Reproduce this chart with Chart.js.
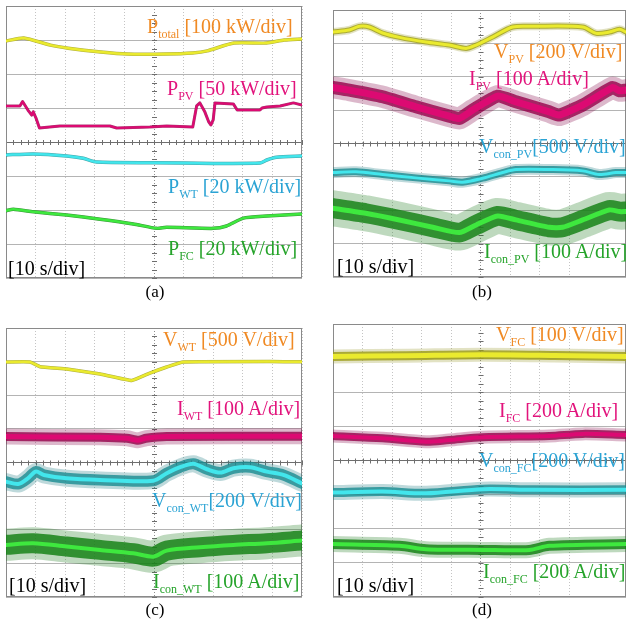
<!DOCTYPE html>
<html>
<head>
<meta charset="utf-8">
<script src="https://cdn.jsdelivr.net/npm/chart.js@4.4.1/dist/chart.umd.min.js"></script>
<style>
  html, body { margin: 0; padding: 0; background: #fff; overflow: hidden; }
  #wrap { position: relative; width: 626px; height: 625px; }
  canvas { position: absolute; }
  .lab { position: absolute; font-family: "Liberation Serif", "Times New Roman", serif; font-size: 20px; line-height: 20px; white-space: nowrap; }
  .lab sub { font-size: 12px; vertical-align: baseline; position: relative; top: 5px; line-height: 0; }
  .cap { position: absolute; width: 60px; text-align: center; font-family: "Liberation Serif", serif; font-size: 17px; line-height: 17px; color: #000; }
</style>
</head>
<body>
<div id="wrap">
  <canvas id="pa" width="298" height="274" style="left:5px;top:5px"></canvas>
  <canvas id="pb" width="294" height="269" style="left:332px;top:9px"></canvas>
  <canvas id="pc" width="298" height="271" style="left:5px;top:327px"></canvas>
  <canvas id="pd" width="294" height="275" style="left:332px;top:323px"></canvas>

  <div class="lab" style="left:147px;top:16px;color:#f08a24">P<sub>total</sub> [100 kW/div]</div>
  <div class="lab" style="left:167px;top:78px;color:#e2137c">P<sub>PV</sub> [50 kW/div]</div>
  <div class="lab" style="left:168px;top:176px;color:#2aa3d4">P<sub>WT</sub> [20 kW/div]</div>
  <div class="lab" style="left:168px;top:238px;color:#25a32a">P<sub>FC</sub> [20 kW/div]</div>
  <div class="lab" style="left:8px;top:258px;color:#000">[10 s/div]</div>

  <div class="lab" style="left:494px;top:41px;color:#f08a24">V<sub>PV</sub> [200 V/div]</div>
  <div class="lab" style="left:469px;top:68px;color:#e2137c">I<sub>PV</sub> [100 A/div]</div>
  <div class="lab" style="left:479px;top:136px;color:#2aa3d4">V<sub>con_PV</sub>[500 V/div]</div>
  <div class="lab" style="left:484px;top:241px;color:#25a32a">I<sub>con_PV</sub> [100 A/div]</div>
  <div class="lab" style="left:337px;top:256px;color:#000">[10 s/div]</div>

  <div class="lab" style="left:163px;top:329px;color:#f08a24">V<sub>WT</sub> [500 V/div]</div>
  <div class="lab" style="left:177px;top:398px;color:#e2137c">I<sub>WT</sub> [100 A/div]</div>
  <div class="lab" style="left:152px;top:490px;color:#2aa3d4">V<sub>con_WT</sub>[200 V/div]</div>
  <div class="lab" style="left:153px;top:571px;color:#25a32a">I<sub>con_WT</sub> [100 A/div]</div>
  <div class="lab" style="left:9px;top:575px;color:#000">[10 s/div]</div>

  <div class="lab" style="left:496px;top:324px;color:#f08a24">V<sub>FC</sub> [100 V/div]</div>
  <div class="lab" style="left:499px;top:400px;color:#e2137c">I<sub>FC</sub> [200 A/div]</div>
  <div class="lab" style="left:479px;top:450px;color:#2aa3d4">V<sub>con_FC</sub>[200 V/div]</div>
  <div class="lab" style="left:483px;top:561px;color:#25a32a">I<sub>con_FC</sub> [200 A/div]</div>
  <div class="lab" style="left:337px;top:575px;color:#000">[10 s/div]</div>

  <div class="cap" style="left:125px;top:283px">(a)</div>
  <div class="cap" style="left:452px;top:283px">(b)</div>
  <div class="cap" style="left:125px;top:601px">(c)</div>
  <div class="cap" style="left:452px;top:601px">(d)</div>
</div>
<script>
// time in seconds (10 s/div), values in screen divisions (0 = bottom, 8 = top)

// (a) powers
var ptotalT = [0, 6, 15, 21, 32, 41, 54, 63, 68, 77, 88, 94, 100];
var ptotalV = [6.97, 7.06, 6.85, 6.76, 6.65, 6.59, 6.59, 6.62, 6.68, 6.91, 6.91, 7.0, 7.03];
var ppvT = [0, 4.7, 5.6, 7.4, 8.7, 9.2, 10.1, 11.3, 18.2, 35.1, 37.4, 48.6, 54.3, 63.1, 64.4, 65.5, 67.2, 68.5, 69.2, 70.0, 70.6, 76.8, 78.1, 85.8, 86.5, 88.1, 92.6, 97.1, 100];
var ppvV = [5.06, 5.06, 5.19, 4.94, 4.79, 4.89, 4.71, 4.41, 4.47, 4.47, 4.41, 4.44, 4.47, 4.44, 5.06, 5.15, 4.88, 4.59, 4.50, 4.65, 5.15, 5.12, 4.94, 4.94, 5.0, 5.03, 5.06, 5.15, 5.09];
var pwtT = [0, 9.2, 20.5, 26.1, 30.6, 49.8, 70.0, 85.8, 88.1, 91.4, 100];
var pwtV = [3.62, 3.65, 3.59, 3.52, 3.41, 3.39, 3.37, 3.38, 3.47, 3.55, 3.59];
var pfcT = [0, 2.5, 9.2, 20.5, 31.8, 43.0, 50.9, 54.3, 70.0, 74.5, 80.2, 88.1, 100];
var pfcV = [1.98, 2.02, 1.95, 1.85, 1.73, 1.59, 1.46, 1.49, 1.46, 1.53, 1.76, 1.82, 1.88];

// (b) PV converter
var vpvT = [0, 5.5, 8.9, 12.3, 16.8, 22.5, 31.5, 39.4, 45.1, 48.5, 54.1, 60.9, 67.7, 84.6, 89.2, 93.7, 97.1, 99.3];
var vpvV = [7.34, 7.40, 7.51, 7.49, 7.31, 7.18, 7.04, 6.95, 6.85, 6.95, 7.19, 7.49, 7.51, 7.49, 7.30, 7.34, 7.42, 7.34];
var ipvT = [0, 5.5, 16.8, 28.1, 39.4, 42.8, 47.3, 55.8, 62.0, 73.3, 76.7, 84.6, 94.8, 97.1, 99.3];
var ipvV = [5.68, 5.60, 5.40, 5.10, 4.82, 4.75, 5.0, 5.42, 5.25, 4.95, 4.85, 5.15, 5.68, 5.58, 5.60];
var vconpvT = [0, 7.8, 16.8, 28.1, 39.4, 43.9, 50.7, 57.5, 62.0, 73.3, 84.6, 90.2, 95.9, 99.3];
var vconpvV = [3.13, 3.15, 3.07, 2.97, 2.88, 2.84, 2.96, 3.13, 3.22, 3.22, 3.18, 3.07, 3.13, 3.13];
var iconpvT = [0, 11.1, 22.5, 33.8, 42.8, 48.5, 55.8, 62.0, 73.3, 77.8, 84.6, 93.7, 97.1, 99.3];
var iconpvV = [2.06, 1.91, 1.71, 1.49, 1.33, 1.56, 1.83, 1.71, 1.49, 1.49, 1.71, 2.01, 1.96, 1.96];

// (c) WT converter
var vwtT = [0, 8.1, 11.5, 20.5, 31.8, 42.5, 48.6, 54.3, 59.9, 100];
var vwtV = [6.99, 6.99, 6.85, 6.78, 6.63, 6.44, 6.66, 6.84, 6.99, 7.0];
var iwtT = [0, 31.8, 40.9, 44.6, 47.3, 54.3, 100];
var iwtV = [4.77, 4.75, 4.72, 4.66, 4.72, 4.77, 4.78];
var vconwtT = [0, 4.1, 7.4, 10.1, 12.8, 20.5, 31.8, 49.8, 54.3, 58.8, 63.3, 67.9, 72.4, 76.8, 82.5, 88.1, 93.7, 100];
var vconwtV = [3.43, 3.36, 3.53, 3.73, 3.63, 3.53, 3.48, 3.46, 3.68, 3.86, 3.96, 3.80, 3.70, 3.83, 3.86, 3.73, 3.63, 3.38];
var iconwtT = [0, 9.2, 20.5, 31.8, 43.0, 49.8, 54.3, 65.5, 76.8, 88.1, 100];
var iconwtV = [1.55, 1.60, 1.50, 1.40, 1.30, 1.20, 1.38, 1.48, 1.55, 1.60, 1.68];

// (d) FC converter
var vfcT = [0, 25, 50, 75, 99.3];
var vfcV = [7.05, 7.07, 7.10, 7.08, 7.05];
var ifcT = [0, 16.8, 31.5, 39.4, 50.7, 73.3, 84.6, 99.3];
var ifcV = [4.72, 4.65, 4.55, 4.60, 4.68, 4.72, 4.78, 4.75];
var vconfcT = [0, 16.8, 31.5, 50.7, 67.7, 99.3];
var vconfcV = [3.06, 3.09, 3.04, 3.16, 3.14, 3.14];
var iconfcT = [0, 22.5, 31.5, 50.7, 66.5, 73.3, 99.3];
var iconfcV = [1.55, 1.50, 1.40, 1.38, 1.38, 1.50, 1.55];

// [faint noise, dark band, bright core]
var YELLOW = ["rgba(150,150,40,0.28)", "rgba(160,160,30,0.85)", "#eaea2e"];
var MAGENTA = ["rgba(130,0,70,0.28)", "rgba(150,0,75,0.8)", "#dc0a72"];
var CYAN = ["rgba(20,120,125,0.28)", "rgba(25,140,145,0.8)", "#42e6ec"];
var GREEN = ["rgba(20,120,20,0.28)", "rgba(25,130,25,0.85)", "#3ee83e"];

function pts(ts, vs) {
    return ts.map((t, i) => ({ x: t, y: vs[i] }));
}

// one trace = up to three stacked strokes; chart.js paints dataset 0 on top,
// so the core goes first
function trace(ts, vs, col, widths, tension) {
    var out = [];
    for (var k = widths.length - 1; k >= 0; k--) {
        if (!widths[k]) continue;
        out.push({
            data: pts(ts, vs),
            borderColor: col[k],
            borderWidth: widths[k],
            tension: tension,
        });
    }
    return out;
}

var scopeGrid = {
    id: "scopeGrid",
    beforeDatasetsDraw(chart) {
        var a = chart.chartArea, c = chart.ctx;
        var xs = chart.scales.x, ys = chart.scales.y;
        var cx = xs.getPixelForValue(50), cy = ys.getPixelForValue(4);
        c.save();
        c.strokeStyle = "#6e6e6e";
        c.lineWidth = 1;
        c.beginPath();
        var dx = (xs.getPixelForValue(10) - xs.getPixelForValue(0)) / 4;
        for (var x = a.left; x <= a.right; x += dx) {
            c.moveTo(Math.round(x) + 0.5, cy - 2);
            c.lineTo(Math.round(x) + 0.5, cy + 3);
        }
        var dy = (ys.getPixelForValue(0) - ys.getPixelForValue(1)) / 4;
        for (var y = a.top; y <= a.bottom; y += dy) {
            c.moveTo(cx - 2, Math.round(y) + 0.5);
            c.lineTo(cx + 3, Math.round(y) + 0.5);
        }
        c.stroke();
        c.strokeStyle = "#8a8a8a";
        c.strokeRect(a.left + 0.5, a.top + 0.5, a.right - a.left - 1, a.bottom - a.top - 1);
        c.restore();
    },
};

function scope(id, xmax, datasets, pad) {
    return new Chart(document.getElementById(id), {
        type: "line",
        data: { datasets: datasets },
        options: {
            responsive: false,
            animation: false,
            events: [],
            layout: { padding: pad },
            plugins: { legend: { display: false }, tooltip: { enabled: false } },
            elements: { point: { radius: 0 }, line: { borderCapStyle: "round", borderJoinStyle: "round" } },
            scales: {
                x: {
                    type: "linear", min: 0, max: xmax,
                    ticks: { display: false, stepSize: 10 },
                    grid: { color: (ctx) => (ctx.tick.value === 50 ? "#8c8c8c" : "#c4c4c4"), drawTicks: false },
                    border: { display: false, dash: [1, 2] },
                    afterFit(s) { s.height = 0; },
                },
                y: {
                    min: 0, max: 8,
                    ticks: { display: false, stepSize: 1 },
                    grid: { color: (ctx) => (ctx.tick.value === 4 ? "#6e6e6e" : "#b4b4b4"), drawTicks: false },
                    border: { display: false },
                    afterFit(s) { s.width = 0; },
                },
            },
        },
        plugins: [scopeGrid],
    });
}

scope("pa", 100, [].concat(
    trace(ptotalT, ptotalV, YELLOW, [0, 3.5, 2.5], 0.2),
    trace(ppvT, ppvV, MAGENTA, [0, 3, 2], 0),
    trace(pwtT, pwtV, CYAN, [0, 3.5, 2.5], 0.2),
    trace(pfcT, pfcV, GREEN, [0, 3.5, 2.5], 0.2)
), { left: 1, right: 1, top: 1, bottom: 1 });

scope("pb", 99.3, [].concat(
    trace(vpvT, vpvV, YELLOW, [8, 5, 3], 0.3),
    trace(ipvT, ipvV, MAGENTA, [22, 13, 7], 0.15),
    trace(vconpvT, vconpvV, CYAN, [11, 7, 3], 0.3),
    trace(iconpvT, iconpvV, GREEN, [36, 20, 5], 0.2)
), { left: 1, right: 0, top: 1, bottom: 1 });

scope("pc", 100, [].concat(
    trace(vwtT, vwtV, YELLOW, [0, 3.5, 2.5], 0.1),
    trace(iwtT, iwtV, MAGENTA, [16, 9, 5], 0.2),
    trace(vconwtT, vconwtV, CYAN, [17, 11, 4], 0.3),
    trace(iconwtT, iconwtV, GREEN, [32, 20, 4], 0.3)
), { left: 1, right: 1, top: 1, bottom: 1 });

scope("pd", 99.3, [].concat(
    trace(vfcT, vfcV, YELLOW, [14, 9, 5], 0.3),
    trace(ifcT, ifcV, MAGENTA, [13, 8, 4], 0.3),
    trace(vconfcT, vconfcV, CYAN, [15, 9, 4], 0.3),
    trace(iconfcT, iconfcV, GREEN, [16, 10, 4], 0.3)
), { left: 1, right: 0, top: 1, bottom: 1 });
</script>
</body>
</html>
